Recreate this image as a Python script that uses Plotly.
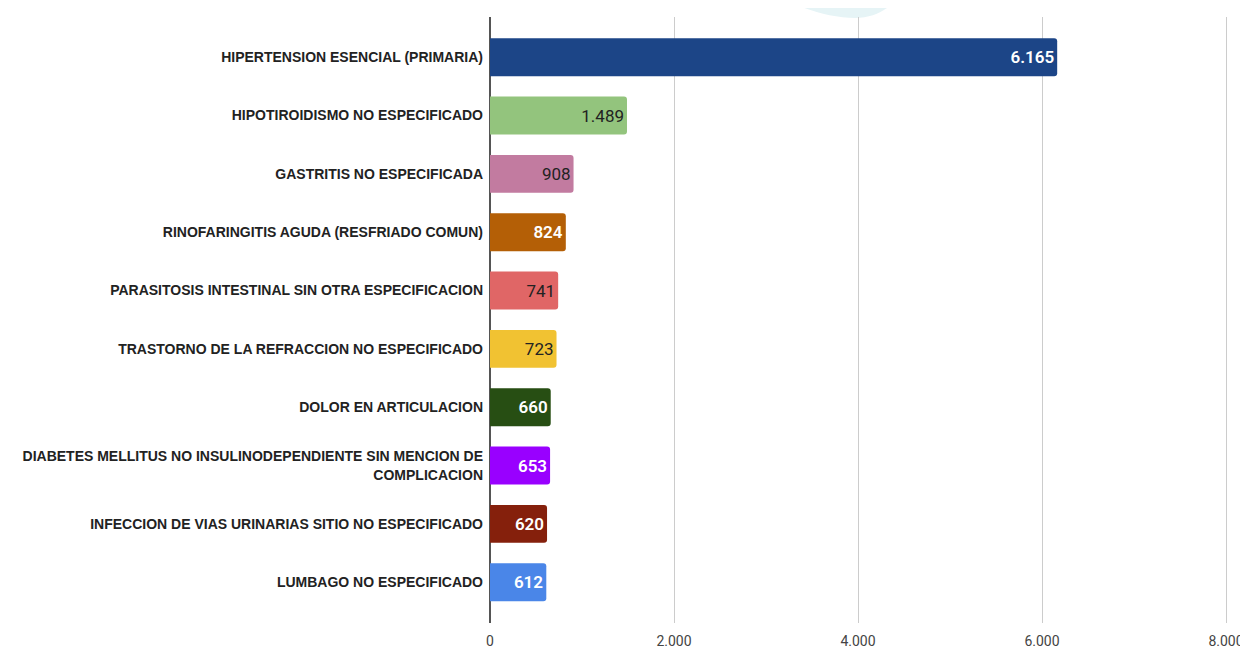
import plotly.graph_objects as go

categories = [
    "HIPERTENSION ESENCIAL (PRIMARIA)",
    "HIPOTIROIDISMO NO ESPECIFICADO",
    "GASTRITIS NO ESPECIFICADA",
    "RINOFARINGITIS AGUDA (RESFRIADO COMUN)",
    "PARASITOSIS INTESTINAL SIN OTRA ESPECIFICACION",
    "TRASTORNO DE LA REFRACCION NO ESPECIFICADO",
    "DOLOR EN ARTICULACION",
    "DIABETES MELLITUS NO INSULINODEPENDIENTE SIN MENCION DE<br>COMPLICACION",
    "INFECCION DE VIAS URINARIAS SITIO NO ESPECIFICADO",
    "LUMBAGO NO ESPECIFICADO",
]
values = [6165, 1489, 908, 824, 741, 723, 660, 653, 620, 612]
bar_colors = ["#1c4587", "#93c47d", "#c27ba0", "#b45f06", "#e06666",
              "#f1c232", "#274e13", "#9900ff", "#85200c", "#4a86e8"]
text_colors = ["#ffffff", "#222222", "#222222", "#ffffff", "#222222",
               "#222222", "#ffffff", "#ffffff", "#ffffff", "#ffffff"]
text_weights = [600, 400, 400, 600, 400, 400, 600, 600, 600, 600]
x_ticks = [0, 2000, 4000, 6000, 8000]

fig = go.Figure()
fig.add_trace(go.Bar(
    y=categories, x=values, orientation="h",
    marker=dict(color=bar_colors, cornerradius=3, line=dict(width=0)),
    texttemplate="%{x:,}", textposition="inside", insidetextanchor="end",
    textfont=dict(family="Roboto", size=17, color=text_colors, weight=text_weights),
    textangle=0, cliponaxis=False, hoverinfo="skip",
))

# decorative blob (pixel positions converted to paper coords of the plot area)
PLOT_W = 744.0
def px(x):
    return (x - 490) / PLOT_W

def py(y):
    return 1 + (17 - y) / 606.0

blob = "M{},{} C{},{} {},{} {},{} C{},{} {},{} {},{} Z".format(
    px(782), py(-2), px(800), py(8), px(830), py(18), px(855), py(18),
    px(875), py(18), px(890), py(8), px(897), py(-2))

fig.update_layout(
    width=1240, height=640,
    margin=dict(l=482, r=14, t=9, b=25, autoexpand=False),
    paper_bgcolor="white", plot_bgcolor="white",
    separators=",.",
    bargap=0.35,
    showlegend=False,
    xaxis=dict(
        range=[0, 8087], tickvals=x_ticks, tickformat=",",
        showgrid=True, gridcolor="#cccccc", gridwidth=1,
        zeroline=True, zerolinecolor="#555555", zerolinewidth=2,
        tickfont=dict(family="Roboto", size=14, color="#444444"),
        showline=False, ticks="", fixedrange=True, ticklabelstandoff=8,
        automargin=False,
    ),
    yaxis=dict(
        autorange=False, range=[9.7, -0.69],
        tickfont=dict(family="Liberation Sans", size=14, color="#222222", weight="bold"),
        ticks="", showgrid=False, ticklabelstandoff=6, automargin=False,
    ),
    shapes=[dict(
        type="path", xref="paper", yref="paper", layer="below",
        path=blob, fillcolor="#e6f4f6", line=dict(width=0),
    )],
)

fig.write_html("out.html")
